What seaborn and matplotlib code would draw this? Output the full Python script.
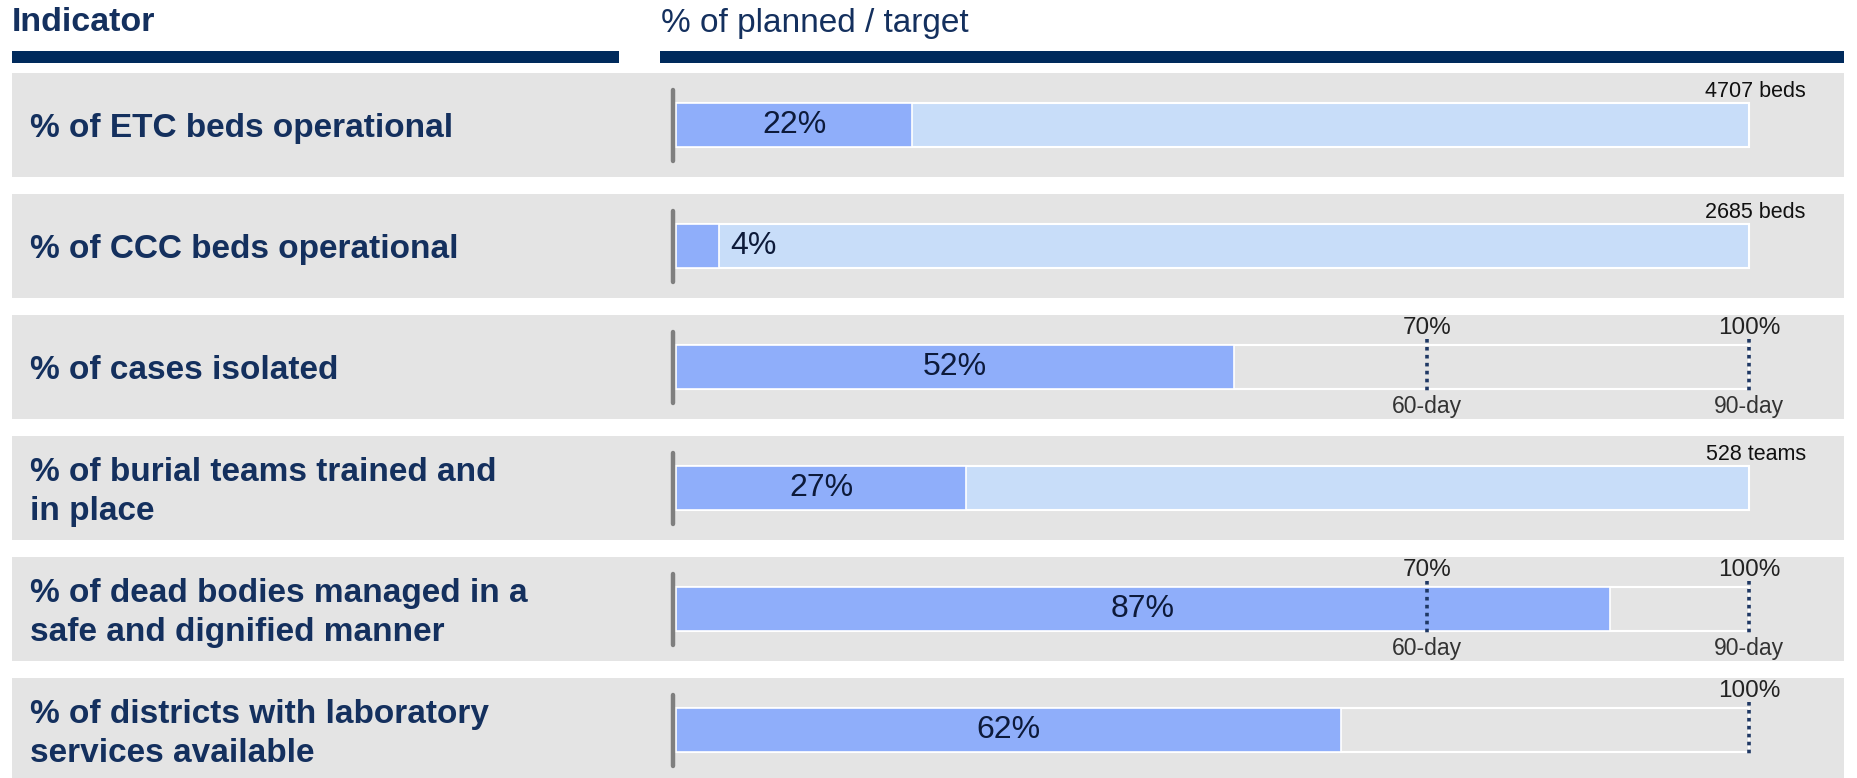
import matplotlib
import matplotlib.pyplot as plt
import pandas as pd
import seaborn as sns

matplotlib.use("Agg")
plt.ioff()

# data
indicators = [
    "% of ETC beds operational",
    "% of CCC beds operational",
    "% of cases isolated",
    "% of burial teams trained and\nin place",
    "% of dead bodies managed in a\nsafe and dignified manner",
    "% of districts with laboratory\nservices available",
]
actual_pct = [22, 4, 52, 27, 87, 62]
target_pct = [100, 100, 100, 100, 100, 100]
target_kind = ["count", "count", "milestone", "count", "milestone", "milestone"]
target_labels = ["4707 beds", "2685 beds", "", "528 teams", "", ""]

milestone_rows = [2, 2, 4, 4, 5]
milestone_pct = [70, 100, 70, 100, 100]
milestone_day = ["60-day", "90-day", "60-day", "90-day", ""]

NAVY = "#002a5c"
TEXT = "#14305e"
PANEL = "#e4e4e4"
LIGHT = "#c8ddf9"
BAR = "#8faefa"


def main():
    sns.set_theme(style="white")
    plt.rcParams["font.family"] = ["Liberation Sans", "DejaVu Sans"]

    df = pd.DataFrame({"indicator": indicators, "actual": actual_pct,
                       "target": target_pct, "kind": target_kind})
    bg_colors = [LIGHT if k == "count" else PANEL for k in target_kind]

    fig = plt.figure(figsize=(18.57, 7.78), dpi=100)
    ax = fig.add_axes([0, 0, 1, 1])

    # grey row panels
    for i in range(len(indicators)):
        ax.axhspan(i - 0.43, i + 0.43, xmin=0.0064, xmax=0.993, color=PANEL, lw=0, zorder=0)

    # target bars then actual bars
    sns.barplot(data=df, y="indicator", x="target", hue="indicator", palette=bg_colors,
                orient="h", width=0.37, edgecolor="white", linewidth=1.5, saturation=1,
                legend=False, ax=ax, zorder=2)
    sns.barplot(data=df, y="indicator", x="actual", color=BAR, orient="h", width=0.37,
                edgecolor="white", linewidth=1.2, saturation=1, ax=ax, zorder=3)

    ytr = ax.get_yaxis_transform()
    for i, (name, val) in enumerate(zip(indicators, actual_pct)):
        ax.plot([-0.3, -0.3], [i - 0.29, i + 0.30], color="#7f7f7f", lw=3.2,
                solid_capstyle="round", zorder=4)
        ax.text(0.0159, i + 0.03, name, transform=ytr, ha="left", va="center", fontsize=24,
                fontweight="bold", color=TEXT, linespacing=1.33)
        if val < 10:
            ax.text(val + 1.0, i, f"{val}%", ha="left", va="center", fontsize=23,
                    color="#0d1a3a", zorder=5)
        else:
            ax.text(val / 2, i, f"{val}%", ha="center", va="center", fontsize=23,
                    color="#0d1a3a", zorder=5)
        if target_labels[i]:
            ax.text(105.3, i - 0.28, target_labels[i], ha="right", va="center",
                    fontsize=15.5, color="#111111", zorder=5)

    for row, pct, day in zip(milestone_rows, milestone_pct, milestone_day):
        ax.plot([pct, pct], [row - 0.23, row + 0.22], color="#1f3864", lw=2.6,
                linestyle=(0, (1, 1.2)), zorder=6)
        ax.text(pct, row - 0.32, f"{pct}%", ha="center", va="center", fontsize=17.5,
                color="#222222", zorder=6)
        if day:
            ax.text(pct, row + 0.33, day, ha="center", va="center", fontsize=16.5,
                    color="#333333", zorder=6)

    # header
    ax.text(0.0064, -0.85, "Indicator", transform=ytr, ha="left", va="center",
            fontsize=24.5, fontweight="bold", color=TEXT)
    ax.text(0.3559, -0.84, "% of planned / target", transform=ytr, ha="left",
            va="center", fontsize=24, color=TEXT)
    ax.axhspan(-0.612, -0.514, xmin=0.0064, xmax=0.3335, color=NAVY, lw=0)
    ax.axhspan(-0.612, -0.514, xmin=0.3552, xmax=0.993, color=NAVY, lw=0)

    ax.set_xlim(-63.03, 110.07)
    ax.set_ylim(5.396, -1.032)
    ax.axis("off")

    fig.savefig("out.png", dpi=100, facecolor="white")
    plt.close("all")


if __name__ == "__main__":
    main()
